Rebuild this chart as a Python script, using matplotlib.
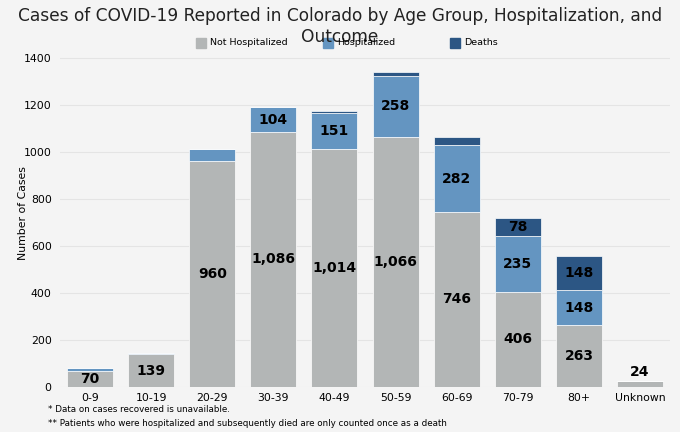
import matplotlib
matplotlib.use("Agg")
import matplotlib.pyplot as plt
from matplotlib.patches import Rectangle
import numpy as np

categories = ["0-9", "10-19", "20-29", "30-39", "40-49", "50-59", "60-69", "70-79", "80+", "Unknown"]
not_hosp = [70, 139, 960, 1086, 1014, 1066, 746, 406, 263, 24]
hosp = [9, 7, 51, 104, 151, 258, 282, 235, 148, 0]
deaths = [0, 0, 2, 3, 8, 16, 37, 78, 148, 0]
series_names = ["Not Hospitalized", "Hospitalized", "Deaths"]
colors = ["#b3b6b6", "#6495c1", "#2c5684"]
footnotes = ["* Data on cases recovered is unavailable.",
             "** Patients who were hospitalized and subsequently died are only counted once as a death"]

W, H = 680, 432
bg = "#f4f4f4"
fig = plt.figure(figsize=(6.8, 4.32), dpi=100, facecolor=bg)
ax_left, ax_right, ax_top, ax_bot = 60, 670, 54.5, 387
ax = fig.add_axes([ax_left / W, 1 - ax_bot / H, (ax_right - ax_left) / W, (ax_bot - ax_top) / H],
                  facecolor=bg)

x = np.arange(len(categories))
w = 0.753
nh = np.array(not_hosp)
h = np.array(hosp)
d = np.array(deaths)
ax.bar(x, nh, w, color=colors[0], edgecolor="white", linewidth=0.5, zorder=2)
ax.bar(x, h, w, bottom=nh, color=colors[1], edgecolor="white", linewidth=0.5, zorder=2)
ax.bar(x, d, w, bottom=nh + h, color=colors[2], edgecolor="white", linewidth=0.5, zorder=2)

lab_kw = dict(ha="center", va="center", fontsize=10, fontweight="bold", color="black", zorder=3)
for i in range(len(categories)):
    if categories[i] == "Unknown":
        ax.text(x[i], nh[i] + 40, f"{nh[i]:,}", **lab_kw)
        continue
    if nh[i] >= 50:
        ax.text(x[i], nh[i] / 2, f"{nh[i]:,}", **lab_kw)
    if h[i] >= 60:
        ax.text(x[i], nh[i] + h[i] / 2, f"{h[i]:,}", **lab_kw)
    if d[i] >= 60:
        ax.text(x[i], nh[i] + h[i] + d[i] / 2, f"{d[i]:,}", **lab_kw)

ax.set_xlim(-0.49, 9.49)
ax.set_ylim(0, 1415)
ax.set_yticks(np.arange(0, 1401, 200))
ax.set_xticks(x)
ax.set_xticklabels(categories, fontsize=7.8)
ax.tick_params(axis="y", labelsize=7.8, length=0, pad=6)
ax.tick_params(axis="x", length=0, pad=4)
ax.yaxis.grid(True, color="#e4e4e4", linewidth=0.8, zorder=0)
ax.set_axisbelow(True)
for s in ax.spines.values():
    s.set_visible(False)
ax.set_ylabel("Number of Cases", fontsize=7.8)
ax.yaxis.set_label_coords((28 - ax_left) / (ax_right - ax_left), (ax_bot - 213) / (ax_bot - ax_top))

fig.text(0.5, 1 - 26.5 / H, "Cases of COVID-19 Reported in Colorado by Age Group, Hospitalization, and\nOutcome",
         ha="center", va="center", fontsize=12.25, color="#222222", linespacing=1.2)

# legend
leg_x = [196, 323, 450]
for i, name in enumerate(series_names):
    fig.patches.append(Rectangle((leg_x[i] / W, 1 - 47.5 / H), 10 / W, 10 / H,
                                 transform=fig.transFigure, color=colors[i], figure=fig))
    fig.text((leg_x[i] + 14) / W, 1 - 42.5 / H, name, fontsize=6.8, va="center", ha="left")

fig.text(48 / W, 1 - 410 / H, footnotes[0], fontsize=6.3, va="center")
fig.text(48 / W, 1 - 423 / H, footnotes[1], fontsize=6.3, va="center")

fig.savefig("out.png", dpi=100, facecolor=bg)
